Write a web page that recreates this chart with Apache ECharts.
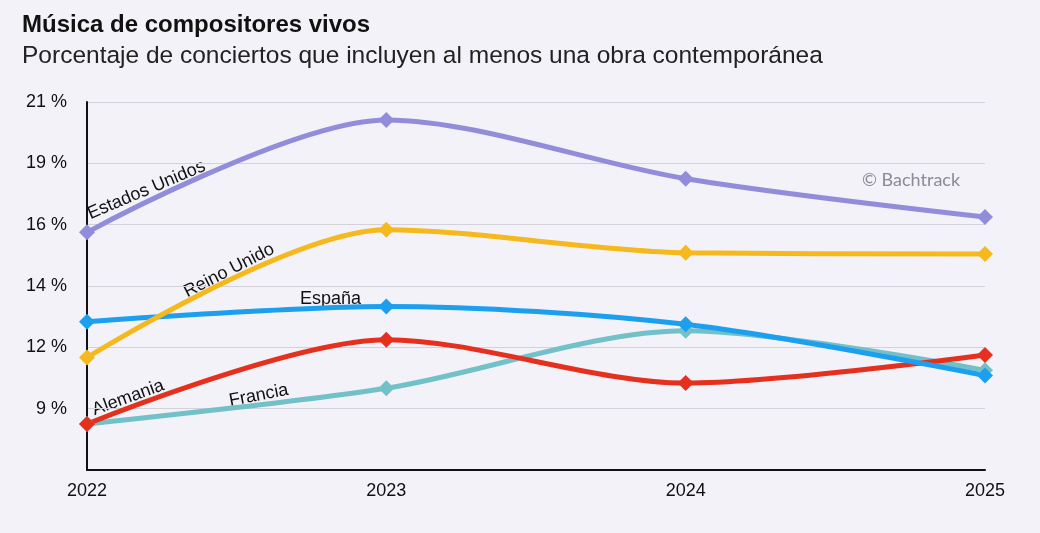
<!DOCTYPE html>
<html>
<head>
    <meta charset="utf-8" />
    <title>Música de compositores vivos</title>
    <script src="https://cdn.jsdelivr.net/npm/echarts@6/dist/echarts.min.js"></script>
    <style>
    html, body { margin: 0; padding: 0; background: #f3f2f9; }
    #main { width: 1040px; height: 533px; }
    </style>
</head>
<body>
    <div id="main"></div>
    <script type="text/javascript">
        // años
        var years = ['2022', '2023', '2024', '2025'];
        // porcentaje de conciertos por país
        var francia = [8.6, 10.0, 12.25, 10.7];
        var alemania = [8.6, 11.9, 10.2, 11.3];
        var espana = [12.6, 13.2, 12.5, 10.5];
        var reinoUnido = [11.2, 16.2, 15.3, 15.25];
        var estadosUnidos = [16.1, 20.5, 18.2, 16.7];

        var font = '"Liberation Sans", Arial, Helvetica, sans-serif';

        function line(name, values, color) {
            return {
                name: name,
                type: 'line',
                data: values,
                smooth: 0.3,
                symbol: 'diamond',
                symbolSize: 16,
                lineStyle: { width: 5, color: color },
                itemStyle: { color: color },
                emphasis: { disabled: true }
            };
        }

        // etiquetas sobre las líneas
        function tag(text, x, y, deg) {
            return {
                type: 'text',
                x: x,
                y: y,
                rotation: deg * Math.PI / 180,
                style: {
                    text: text,
                    font: '18px ' + font,
                    fill: '#111',
                    textAlign: 'left',
                    textVerticalAlign: 'bottom'
                }
            };
        }

        var myChart = echarts.init(document.getElementById('main'));
        myChart.setOption({
            backgroundColor: '#f3f2f9',
            animation: false,
            title: {
                text: 'Música de compositores vivos',
                subtext: 'Porcentaje de conciertos que incluyen al menos una obra contemporánea',
                left: 22,
                top: 13,
                padding: 0,
                itemGap: 7,
                textStyle: { fontFamily: font, fontSize: 24, fontWeight: 'bold', color: '#111' },
                subtextStyle: { fontFamily: font, fontSize: 24.5, color: '#222' }
            },
            grid: { left: 87, right: 55, top: 102, bottom: 63 },
            xAxis: {
                type: 'category',
                data: years,
                boundaryGap: false,
                axisLine: { lineStyle: { color: '#111', width: 2 } },
                axisTick: { show: false },
                axisLabel: {
                    fontFamily: font, fontSize: 18, color: '#111', margin: 12,
                    alignMinLabel: 'center', alignMaxLabel: 'center'
                }
            },
            yAxis: {
                type: 'value',
                min: 6.8,
                max: 21.2,
                interval: 2.4,
                axisLine: { show: true, lineStyle: { color: '#111', width: 2 } },
                axisTick: { show: false },
                splitLine: { lineStyle: { color: '#d3d2da', width: 1 } },
                axisLabel: {
                    fontFamily: font, fontSize: 18, color: '#111', margin: 20,
                    showMinLabel: false,
                    formatter: function (v) { return Math.round(v) + ' %'; }
                }
            },
            series: [
                line('Francia', francia, '#72c1c9'),
                line('Alemania', alemania, '#e5301e'),
                line('España', espana, '#1d9ff0'),
                line('Reino Unido', reinoUnido, '#f5b91e'),
                line('Estados Unidos', estadosUnidos, '#918dda')
            ],
            graphic: [
                tag('Estados Unidos', 92, 223, 23),
                tag('Reino Unido', 189, 301, 27),
                tag('España', 300, 308, 0),
                tag('Alemania', 96, 419, 20),
                tag('Francia', 231, 410, 11),
                {
                    type: 'text',
                    x: 862,
                    y: 180,
                    style: {
                        text: '© Bachtrack',
                        font: '18px Lato, "Open Sans", sans-serif',
                        fill: '#8a8a98',
                        textAlign: 'left',
                        textVerticalAlign: 'middle'
                    }
                }
            ]
        });
    </script>
</body>
</html>
